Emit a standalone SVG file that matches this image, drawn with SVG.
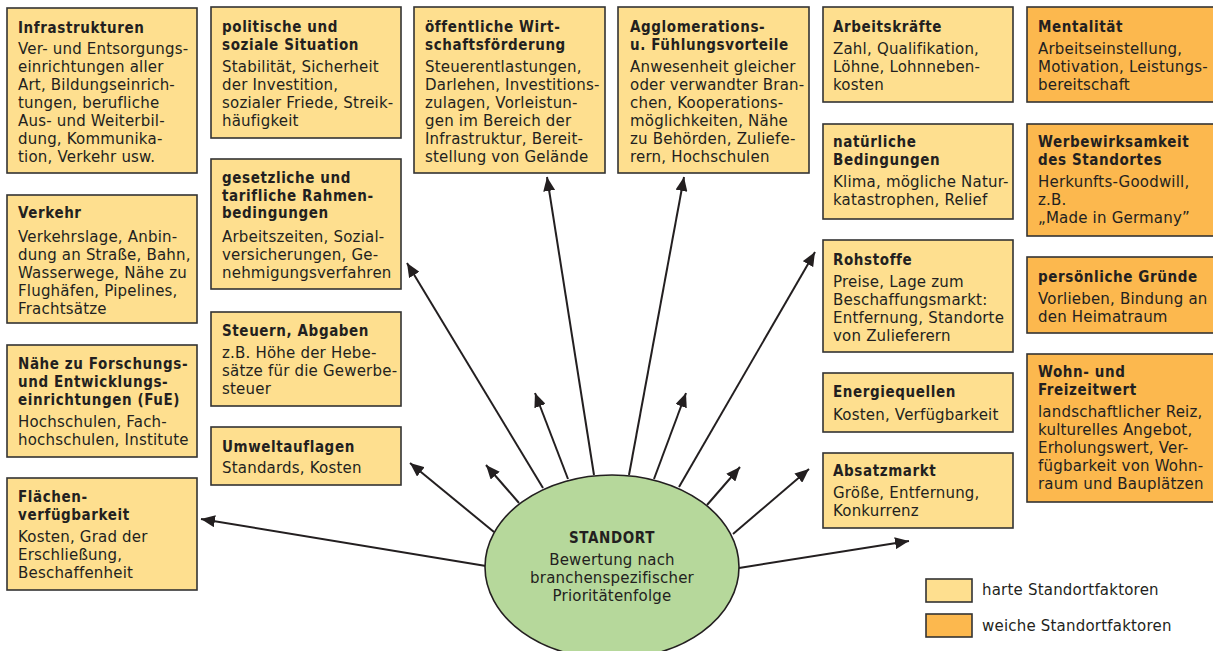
<svg xmlns="http://www.w3.org/2000/svg" width="1213" height="651" viewBox="0 0 1213 651">
<style>
.h{fill:#FEDF8F;stroke:#333;stroke-width:1.6}
.w{fill:#FCB84E;stroke:#333;stroke-width:1.6}
text{font-family:"DejaVu Sans","Open Sans","Liberation Sans",sans-serif;fill:#231f20;font-size:15px;letter-spacing:0.2px}
.t{font-family:"DejaVu Sans Condensed","DejaVu Sans",sans-serif;font-stretch:condensed;font-weight:bold;font-size:15px;letter-spacing:0.6px}
.c{stroke:#231f20;stroke-width:2;fill:none;marker-end:url(#ah)}
</style>
<defs>
<marker id="ah" markerUnits="userSpaceOnUse" markerWidth="16" markerHeight="12" refX="14" refY="6" orient="auto">
<path d="M0,0 L14,6 L0,12 z" fill="#231f20"/>
</marker>
</defs>
<rect width="1213" height="651" fill="#fff"/>
<g id="connectors">
<line class="c" x1="486" y1="566" x2="201" y2="519"/>
<line class="c" x1="494" y1="532" x2="410" y2="463"/>
<line class="c" x1="519" y1="503" x2="486" y2="465"/>
<line class="c" x1="543" y1="488" x2="407" y2="263"/>
<line class="c" x1="568" y1="479" x2="535" y2="393"/>
<line class="c" x1="594" y1="475" x2="547" y2="177"/>
<line class="c" x1="629" y1="475" x2="684" y2="177"/>
<line class="c" x1="654" y1="479" x2="686" y2="393"/>
<line class="c" x1="679" y1="487" x2="815" y2="252"/>
<line class="c" x1="707" y1="505" x2="740" y2="467"/>
<line class="c" x1="733" y1="534" x2="809" y2="469"/>
<line class="c" x1="739" y1="568" x2="909" y2="541"/>
</g>
<g id="standort">
<ellipse cx="612" cy="567" rx="127" ry="92" fill="#B6D89B" stroke="#231f20" stroke-width="1.6"/>
<text x="612" text-anchor="middle"><tspan class="t" x="612" y="543">STANDORT</tspan><tspan x="612" y="565">Bewertung nach</tspan><tspan x="612" y="583">branchenspezifischer</tspan><tspan x="612" y="601">Prioritätenfolge</tspan></text>
</g>
<g id="infrastrukturen">
<rect class="h" x="7" y="8" width="190" height="165"/>
<text><tspan class="t" x="18" y="33">Infrastrukturen</tspan><tspan x="18" y="54">Ver- und Entsorgungs-</tspan><tspan x="18" y="72">einrichtungen aller</tspan><tspan x="18" y="90">Art, Bildungseinrich-</tspan><tspan x="18" y="108">tungen, berufliche</tspan><tspan x="18" y="126">Aus- und Weiterbil-</tspan><tspan x="18" y="144">dung, Kommunika-</tspan><tspan x="18" y="162">tion, Verkehr usw.</tspan></text>
</g>
<g id="verkehr">
<rect class="h" x="7" y="195" width="190" height="128"/>
<text><tspan class="t" x="18" y="218">Verkehr</tspan><tspan x="18" y="242">Verkehrslage, Anbin-</tspan><tspan x="18" y="260">dung an Straße, Bahn,</tspan><tspan x="18" y="278">Wasserwege, Nähe zu</tspan><tspan x="18" y="296">Flughäfen, Pipelines,</tspan><tspan x="18" y="314">Frachtsätze</tspan></text>
</g>
<g id="fue">
<rect class="h" x="7" y="345" width="190" height="112"/>
<text><tspan class="t" x="18" y="369">Nähe zu Forschungs-</tspan><tspan class="t" x="18" y="387">und Entwicklungs-</tspan><tspan class="t" x="18" y="405">einrichtungen (FuE)</tspan><tspan x="18" y="427">Hochschulen, Fach-</tspan><tspan x="18" y="445">hochschulen, Institute</tspan></text>
</g>
<g id="flaechen">
<rect class="h" x="7" y="478" width="190" height="112"/>
<text><tspan class="t" x="18" y="502">Flächen-</tspan><tspan class="t" x="18" y="520">verfügbarkeit</tspan><tspan x="18" y="542">Kosten, Grad der</tspan><tspan x="18" y="560">Erschließung,</tspan><tspan x="18" y="578">Beschaffenheit</tspan></text>
</g>
<g id="politische">
<rect class="h" x="211" y="7" width="190" height="131"/>
<text><tspan class="t" x="222" y="32">politische und</tspan><tspan class="t" x="222" y="50">soziale Situation</tspan><tspan x="222" y="72">Stabilität, Sicherheit</tspan><tspan x="222" y="90">der Investition,</tspan><tspan x="222" y="108">sozialer Friede, Streik-</tspan><tspan x="222" y="126">häufigkeit</tspan></text>
</g>
<g id="gesetzliche">
<rect class="h" x="211" y="159" width="190" height="130"/>
<text><tspan class="t" x="222" y="183">gesetzliche und</tspan><tspan class="t" x="222" y="200.5">tarifliche Rahmen-</tspan><tspan class="t" x="222" y="218">bedingungen</tspan><tspan x="222" y="242">Arbeitszeiten, Sozial-</tspan><tspan x="222" y="260">versicherungen, Ge-</tspan><tspan x="222" y="278">nehmigungsverfahren</tspan></text>
</g>
<g id="steuern">
<rect class="h" x="211" y="312" width="190" height="94"/>
<text><tspan class="t" x="222" y="336">Steuern, Abgaben</tspan><tspan x="222" y="358">z.B. Höhe der Hebe-</tspan><tspan x="222" y="376">sätze für die Gewerbe-</tspan><tspan x="222" y="394">steuer</tspan></text>
</g>
<g id="umwelt">
<rect class="h" x="211" y="427" width="190" height="58"/>
<text><tspan class="t" x="222" y="452">Umweltauflagen</tspan><tspan x="222" y="473">Standards, Kosten</tspan></text>
</g>
<g id="foerderung">
<rect class="h" x="414" y="7" width="191" height="166"/>
<text><tspan class="t" x="425" y="32">öffentliche Wirt-</tspan><tspan class="t" x="425" y="50">schaftsförderung</tspan><tspan x="425" y="72">Steuerentlastungen,</tspan><tspan x="425" y="90">Darlehen, Investitions-</tspan><tspan x="425" y="108">zulagen, Vorleistun-</tspan><tspan x="425" y="126">gen im Bereich der</tspan><tspan x="425" y="144">Infrastruktur, Bereit-</tspan><tspan x="425" y="162">stellung von Gelände</tspan></text>
</g>
<g id="agglomeration">
<rect class="h" x="618" y="7" width="191" height="166"/>
<text><tspan class="t" x="630" y="32">Agglomerations-</tspan><tspan class="t" x="630" y="50">u. Fühlungsvorteile</tspan><tspan x="630" y="72">Anwesenheit gleicher</tspan><tspan x="630" y="90">oder verwandter Bran-</tspan><tspan x="630" y="108">chen, Kooperations-</tspan><tspan x="630" y="126">möglichkeiten, Nähe</tspan><tspan x="630" y="144">zu Behörden, Zuliefe-</tspan><tspan x="630" y="162">rern, Hochschulen</tspan></text>
</g>
<g id="arbeitskraefte">
<rect class="h" x="823" y="7" width="190" height="95"/>
<text><tspan class="t" x="833" y="32">Arbeitskräfte</tspan><tspan x="833" y="54">Zahl, Qualifikation,</tspan><tspan x="833" y="72">Löhne, Lohnneben-</tspan><tspan x="833" y="90">kosten</tspan></text>
</g>
<g id="natuerliche">
<rect class="h" x="823" y="124" width="190" height="95"/>
<text><tspan class="t" x="833" y="147">natürliche</tspan><tspan class="t" x="833" y="165">Bedingungen</tspan><tspan x="833" y="187">Klima, mögliche Natur-</tspan><tspan x="833" y="205">katastrophen, Relief</tspan></text>
</g>
<g id="rohstoffe">
<rect class="h" x="823" y="240" width="190" height="112"/>
<text><tspan class="t" x="833" y="265">Rohstoffe</tspan><tspan x="833" y="287">Preise, Lage zum</tspan><tspan x="833" y="305">Beschaffungsmarkt:</tspan><tspan x="833" y="323">Entfernung, Standorte</tspan><tspan x="833" y="341">von Zulieferern</tspan></text>
</g>
<g id="energie">
<rect class="h" x="823" y="373" width="190" height="59"/>
<text><tspan class="t" x="833" y="397">Energiequellen</tspan><tspan x="833" y="420">Kosten, Verfügbarkeit</tspan></text>
</g>
<g id="absatzmarkt">
<rect class="h" x="823" y="453" width="190" height="75"/>
<text><tspan class="t" x="833" y="476">Absatzmarkt</tspan><tspan x="833" y="498">Größe, Entfernung,</tspan><tspan x="833" y="516">Konkurrenz</tspan></text>
</g>
<g id="mentalitaet">
<rect class="w" x="1027" y="7" width="190" height="95"/>
<text><tspan class="t" x="1038" y="32">Mentalität</tspan><tspan x="1038" y="54">Arbeitseinstellung,</tspan><tspan x="1038" y="72">Motivation, Leistungs-</tspan><tspan x="1038" y="90">bereitschaft</tspan></text>
</g>
<g id="werbewirksamkeit">
<rect class="w" x="1027" y="124" width="190" height="112"/>
<text><tspan class="t" x="1038" y="147">Werbewirksamkeit</tspan><tspan class="t" x="1038" y="165">des Standortes</tspan><tspan x="1038" y="187">Herkunfts-Goodwill,</tspan><tspan x="1038" y="205">z.B.</tspan><tspan x="1038" y="223">„Made in Germany”</tspan></text>
</g>
<g id="persoenlich">
<rect class="w" x="1027" y="257" width="190" height="76"/>
<text><tspan class="t" x="1038" y="282">persönliche Gründe</tspan><tspan x="1038" y="304">Vorlieben, Bindung an</tspan><tspan x="1038" y="322">den Heimatraum</tspan></text>
</g>
<g id="wohnwert">
<rect class="w" x="1027" y="354" width="190" height="148"/>
<text><tspan class="t" x="1038" y="377">Wohn- und</tspan><tspan class="t" x="1038" y="395">Freizeitwert</tspan><tspan x="1038" y="417">landschaftlicher Reiz,</tspan><tspan x="1038" y="435">kulturelles Angebot,</tspan><tspan x="1038" y="453">Erholungswert, Ver-</tspan><tspan x="1038" y="471">fügbarkeit von Wohn-</tspan><tspan x="1038" y="489">raum und Bauplätzen</tspan></text>
</g>
<g id="legend">
<rect class="h" x="926" y="579" width="46" height="23"/>
<text x="982" y="595">harte Standortfaktoren</text>
<rect class="w" x="926" y="614" width="46" height="23"/>
<text x="982" y="631">weiche Standortfaktoren</text>
</g>
</svg>
